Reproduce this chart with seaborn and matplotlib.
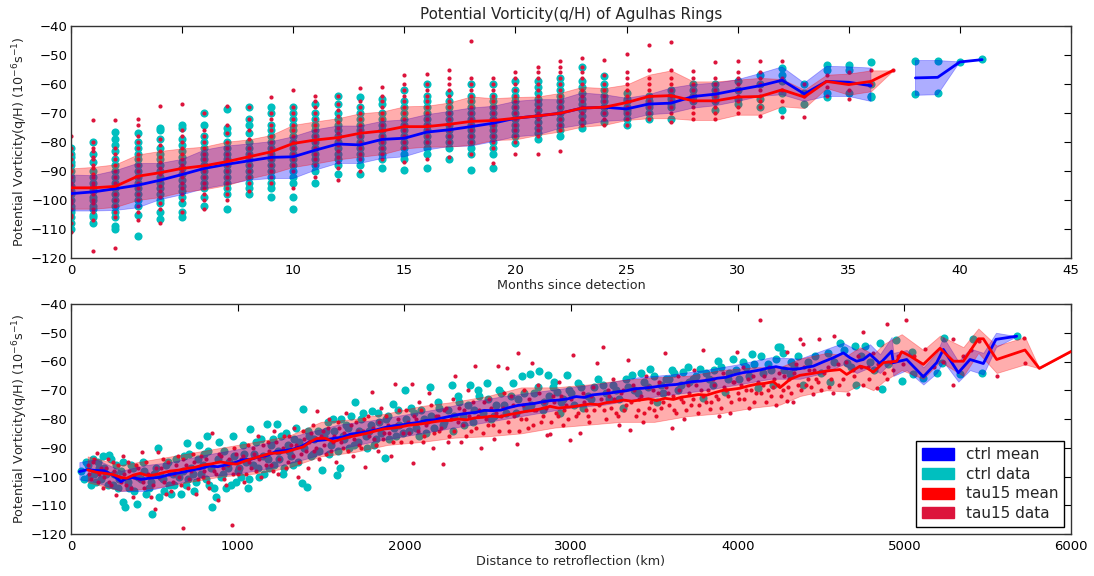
import numpy as np
import pandas as pd
import matplotlib
matplotlib.use("Agg")
import matplotlib.pyplot as plt
import matplotlib.patches as mpatches
import seaborn as sns

# ---------------- TOP PANEL DATA (months since detection) ----------------
months = list(range(42))
ctrl_mean_m = [-97.8, -97.2, -96.1, -94.9, -93.2, -91.2, -89.1, -87.7, -86.5, -85.3,
               -85.1, -82.8, -80.7, -81.0, -79.1, -78.7, -76.6, -75.8, -74.7, -73.5,
               -71.8, -71.0, -70.1, -68.3, -68.0, -68.6, -66.9, -66.6, -64.3, -63.5,
               -62.0, -60.6, -58.7, -63.4, -59.1, -59.4, -60.6, np.nan, -57.9, -57.7,
               -52.4, -51.6]
ctrl_hi_m = [-91.4, -91.6, -89.9, -87.4, -87.4, -86.0, -82.8, -81.4, -80.7, -79.9,
             -78.2, -75.8, -74.5, -74.5, -72.9, -72.4, -70.6, -69.5, -68.3, -67.7,
             -66.0, -65.4, -65.4, -63.1, -63.7, -64.9, -63.7, -61.4, -60.2, -59.7,
             -58.5, -56.4, -54.1, -59.7, -53.9, -54.1, -54.5, np.nan, -51.9, -51.9,
             -52.4, -51.6]
ctrl_lo_m = [-103.8, -103.8, -103.6, -102.7, -99.9, -98.2, -96.1, -94.7, -93.2, -92.6,
             -92.6, -89.7, -87.4, -87.4, -85.7, -85.1, -82.8, -81.6, -81.4, -79.9,
             -78.2, -77.6, -75.3, -74.1, -72.9, -72.4, -70.6, -70.1, -68.3, -67.5,
             -66.0, -64.3, -63.7, -66.0, -64.3, -64.3, -66.0, np.nan, -63.9, -63.7,
             -52.4, -51.6]
tau_mean_m = [-95.8, -95.8, -95.3, -91.8, -90.6, -89.1, -88.2, -86.8, -85.1, -83.4,
              -80.5, -79.3, -78.5, -77.0, -76.2, -74.7, -74.7, -73.9, -72.9, -72.6,
              -71.8, -71.0, -70.1, -68.3, -68.0, -66.4, -64.3, -64.0, -65.8, -65.8,
              -64.5, -64.3, -62.0, -64.5, -59.1, -60.2, -59.1, -55.3, np.nan, np.nan,
              np.nan, np.nan]
tau_hi_m = [-89.1, -88.6, -87.7, -84.3, -83.1, -82.2, -81.6, -79.9, -79.1, -77.6,
            -74.1, -72.9, -71.8, -70.1, -69.5, -67.7, -67.5, -66.4, -64.3, -64.9,
            -64.5, -64.3, -63.1, -61.0, -61.4, -60.2, -56.8, -55.3, -59.1, -59.1,
            -58.5, -57.9, -58.3, -62.0, -56.8, -56.4, -55.3, -55.3, np.nan, np.nan,
            np.nan, np.nan]
tau_lo_m = [-103.0, -103.0, -102.4, -100.0, -99.0, -97.2, -96.3, -94.9, -92.6, -90.9,
            -88.6, -87.4, -86.0, -85.1, -84.2, -82.2, -81.6, -81.6, -81.0, -79.3,
            -79.1, -77.6, -76.4, -74.7, -74.1, -72.4, -71.8, -71.8, -72.4, -72.4,
            -70.6, -70.6, -67.7, -68.3, -61.4, -63.7, -62.5, -55.3, np.nan, np.nan,
            np.nan, np.nan]

ctrl_pts_m = [
    [-82, -85, -88, -90, -93, -95, -98, -100, -102, -104, -106, -110],
    [-80, -87, -90, -94, -97, -100, -103, -106, -108],
    [-76.5, -79, -83, -88, -92, -96, -100, -104, -109, -110],
    [-77, -82, -86, -90, -94, -98, -102, -105, -112.5],
    [-75, -76, -82, -86, -90, -94, -98, -101, -104, -106.5],
    [-74, -75, -81, -85, -89, -93, -97, -101, -104, -106],
    [-70, -74, -80, -84, -88, -92, -96, -99, -102],
    [-68.5, -75, -77, -82, -86, -90, -94, -98, -103],
    [-68, -72, -74, -80, -84, -88, -92, -96, -98],
    [-68, -70, -76, -80, -84, -88, -92, -96, -99],
    [-68, -70, -74, -78, -82, -86, -90, -94, -99, -103],
    [-67, -70, -74, -78, -82, -86, -90, -94],
    [-64, -67, -72, -76, -80, -84, -88, -91],
    [-64.5, -68, -72, -76, -80, -84, -88, -91],
    [-65, -67, -70, -74, -78, -82, -86, -89],
    [-62, -66, -70, -74, -78, -82, -86, -89.7],
    [-60, -64, -68, -72, -76, -80, -84, -89],
    [-63, -66, -70, -74, -78, -82, -86],
    [-60, -64, -68, -72, -76, -80, -84, -89.7],
    [-60, -64, -68, -72, -76, -80, -84, -89],
    [-59, -62, -66, -70, -74, -78, -80.5],
    [-59, -63, -67, -71, -75, -79],
    [-58, -62, -66, -70, -74, -78],
    [-54, -59, -63, -67, -71, -75],
    [-57.3, -62, -66, -70, -73],
    [-63, -66, -69, -72, -74],
    [-64, -67, -70, -72],
    [-62, -65, -68, -72],
    [-60, -62, -64, -66],
    [-60, -62, -64, -66, -69],
    [-59, -62, -65, -67],
    [-57, -60, -65, -68],
    [-54.5, -57, -59, -63, -69],
    [-60, -63, -67],
    [-53.3, -55, -63, -64.5],
    [-53.5, -55, -63],
    [-52.5, -60, -64, -64.5],
    [],
    [-52, -63.5],
    [-52, -63],
    [-52.5],
    [-51.5],
]
ctrl_pts_m_extra = [
    [-84, -87, -92, -97, -103, -108], [-84, -92, -96, -99, -102, -105],
    [-81, -86, -90, -94, -98, -102, -106], [-80, -84, -88, -92, -96, -100],
    [-79, -84, -88, -92, -96, -100], [-79, -83, -87, -91, -95, -99],
    [-78, -82, -86, -90, -94], [-80, -84, -88, -92, -96], [-77, -82, -86, -90, -94],
    [-74, -78, -82, -86, -90, -94], [-72, -76, -80, -84, -88, -92],
    [-72, -76, -80, -84, -88], [-70, -74, -78, -82, -86], [-70, -74, -78, -82, -86],
    [-72, -76, -80, -84], [-68, -72, -76, -80, -84], [-66, -70, -74, -78, -82],
    [-68, -72, -76, -80], [-66, -70, -74, -78, -82], [-66, -70, -74, -78, -82],
    [-64, -68, -72, -76], [-61, -65, -69, -73, -77], [-60, -64, -68, -72, -76],
    [-61, -65, -69, -73], [-60, -64, -68], [-65, -68, -70], [-66, -68], [-64, -67],
]
tau_pts_m = [
    [-78, -84, -88, -92, -95, -98, -101, -105, -108, -111],
    [-72.5, -80, -83, -86, -89, -92, -95, -98, -101, -104, -107, -117.5],
    [-72.5, -82, -86, -90, -94, -98, -102, -106, -116.5],
    [-72, -74, -80, -84, -88, -92, -96, -100, -104, -107],
    [-67.5, -79, -83, -87, -91, -95, -99, -103, -108],
    [-67, -76, -80, -84, -88, -92, -96, -100, -104],
    [-70, -78, -82, -86, -90, -94, -98, -103],
    [-67.5, -74, -80, -84, -88, -92, -96, -100],
    [-68, -76, -82, -86, -90, -94, -97],
    [-64.5, -72, -76, -80, -84, -88, -92, -94],
    [-62, -70, -74, -78, -82, -86, -90, -96],
    [-64, -68, -72, -76, -80, -84, -88, -92],
    [-64, -69, -73, -77, -81, -85, -89, -93],
    [-61.5, -66, -70, -74, -78, -82, -86, -90],
    [-61, -66, -70, -74, -78, -82, -86],
    [-57, -62, -66, -70, -74, -78, -82, -87],
    [-56.4, -60, -64, -68, -72, -76, -80, -86],
    [-55, -60, -64, -68, -72, -76, -80, -85],
    [-45.2, -58, -62, -66, -70, -74, -78, -84],
    [-58, -62, -66, -70, -74, -78, -82, -87.4],
    [-56, -60, -64, -68, -72, -76, -80, -84],
    [-54, -58, -62, -66, -70, -74, -78, -84],
    [-52, -56, -60, -64, -68, -72, -76, -83],
    [-51, -54, -58, -62, -66, -70, -74],
    [-51.6, -57, -62, -66, -70, -74],
    [-49.6, -56, -60, -64, -68, -72, -74],
    [-46.7, -55, -60, -64, -68, -72],
    [-45.5, -55, -60, -64, -68, -73],
    [-55.4, -60, -64, -68, -72],
    [-52.5, -60, -64, -68, -72],
    [-52, -58, -62, -66, -70],
    [-52, -58, -62, -66, -71],
    [-52, -58, -62, -66, -71.4],
    [-60, -64, -71.4],
    [-57, -61, -64],
    [-56, -62, -65],
    [-55, -60],
    [-55.3],
    [], [], [], [],
]
tau_pts_m_extra = [
    [-82, -86, -90, -94, -97, -100, -103, -106], [-82, -85, -88, -91, -94, -97, -100, -103],
    [-84, -88, -92, -96, -100, -104], [-78, -82, -86, -90, -94, -98, -102],
    [-81, -85, -89, -93, -97, -101], [-78, -82, -86, -90, -94, -98],
    [-76, -80, -84, -88, -92, -96, -100], [-77, -82, -86, -90, -94, -98],
    [-72, -79, -84, -88, -92], [-70, -74, -78, -82, -86, -90],
    [-68, -72, -76, -80, -84, -88], [-66, -70, -74, -78, -82, -86],
    [-67, -71, -75, -79, -83, -87], [-68, -72, -76, -80, -84],
    [-64, -68, -72, -76, -80, -84], [-60, -64, -68, -72, -76, -80],
    [-62, -66, -70, -74, -78], [-58, -62, -66, -70, -74, -78],
    [-60, -64, -68, -72, -76, -80], [-60, -64, -68, -72, -76, -80],
    [-58, -62, -66, -70, -74, -78], [-56, -60, -64, -68, -72, -76],
    [-54, -58, -62, -66, -70, -74], [-56, -60, -64, -68, -72], [-60, -64, -68, -72],
    [-58, -62, -66, -70], [-58, -62, -66, -70], [-58, -62, -66, -70],
    [-58, -62, -66, -70], [-58, -62, -66, -70], [-56, -60, -64, -68], [-56, -60, -64, -68],
]

# ---------------- BOTTOM PANEL DATA (distance to retroflection, km) ----------------
ctrl_dist = [50, 100, 150, 200, 250, 300, 330, 370, 420, 470, 530, 580, 630, 680, 730, 780,
             830, 880, 930, 980, 1030, 1080, 1130, 1180, 1230, 1280, 1330, 1380, 1430, 1480,
             1530, 1580, 1630, 1680, 1730, 1780, 1830, 1880, 1930, 1980, 2030, 2080, 2130,
             2180, 2230, 2280, 2330, 2380, 2430, 2480, 2530, 2580, 2630, 2680, 2730, 2780,
             2830, 2880, 2930, 2980, 3030, 3080, 3130, 3180, 3230, 3280, 3330, 3380, 3430,
             3480, 3530, 3580, 3630, 3680, 3730, 3780, 3830, 3880, 3930, 3980, 4030, 4080,
             4130, 4180, 4230, 4280, 4330, 4374, 4414, 4454, 4514, 4574, 4634, 4674, 4714,
             4754, 4794, 4854, 4924, 4934, 5014, 5114, 5194, 5234, 5324, 5394, 5474, 5550,
             5674]
ctrl_mean_d = [-98.3, -97.6, -97.9, -98.0, -99.5, -101.8, -100.8, -100.4, -101.0, -100.6,
               -100.3, -99.5, -98.9, -98.4, -97.7, -97.2, -96.3, -96.6, -96.0, -95.2, -94.2,
               -94.0, -93.1, -92.6, -91.3, -91.0, -90.5, -89.6, -88.0, -87.5, -87.2, -86.7,
               -86.3, -85.2, -84.9, -84.4, -83.8, -83.0, -82.4, -82.1, -81.6, -81.2, -80.5,
               -80.3, -79.6, -79.0, -78.4, -78.0, -77.7, -77.0, -77.1, -76.9, -76.0, -75.3,
               -74.9, -74.6, -74.0, -73.6, -73.4, -73.0, -72.2, -72.5, -71.6, -71.3, -71.0,
               -70.5, -70.2, -69.5, -69.3, -69.0, -68.6, -68.2, -68.0, -67.5, -67.0, -66.8,
               -66.4, -65.8, -65.5, -64.6, -63.9, -63.5, -63.0, -62.3, -61.8, -62.4, -62.7,
               -62.5, -62.0, -61.6, -60.1, -58.7, -57.0, -58.7, -59.9, -59.3, -57.5, -60.7,
               -56.4, -60.4, -59.3, -65.3, -60.4, -55.8, -63.9, -59.3, -60.7, -52.3, -51.2]
ctrl_band_d = [50, 150, 300, 450, 600, 800, 1000, 1200, 1400, 1600, 1800, 2000, 2200, 2400,
               2600, 2800, 3000, 3200, 3400, 3600, 3800, 4000, 4200, 4374, 4514, 4634, 4714,
               4794, 4854, 4924, 4934, 5014, 5114, 5194, 5234, 5324, 5394, 5474, 5550, 5674]
ctrl_band_lo = [-101, -102, -105, -105, -103, -100, -99, -97, -94, -90.5, -88, -86, -84, -82,
                -80, -78, -76, -75, -73, -71.5, -70, -68, -66, -66, -64, -61, -64, -62, -64,
                -60, -65, -63, -68, -64, -60, -67, -63, -64.5, -55, -51.2]
ctrl_band_hi = [-95, -94, -98, -96, -95, -92.5, -90.5, -88, -85, -82, -80.5, -78.5, -76.5, -74,
                -72, -70.5, -69, -67.5, -65.5, -64.5, -63, -61, -58.5, -59, -56, -53.5, -56,
                -54, -57.5, -51.5, -57, -56, -62, -57, -51.5, -60, -55.5, -57, -50, -51.2]

tau_dist = [100, 150, 200, 250, 300, 334, 374, 414, 454, 494, 544, 594, 644, 694, 744, 794,
            844, 894, 944, 994, 1044, 1094, 1144, 1194, 1244, 1294, 1344, 1394, 1434, 1474,
            1524, 1574, 1624, 1674, 1724, 1774, 1824, 1874, 1924, 1974, 2024, 2074, 2124,
            2174, 2224, 2274, 2324, 2374, 2424, 2474, 2524, 2574, 2624, 2674, 2724, 2774,
            2824, 2874, 2924, 2974, 3014, 3064, 3114, 3164, 3214, 3264, 3314, 3364, 3414,
            3464, 3514, 3564, 3614, 3664, 3714, 3764, 3814, 3864, 3914, 3964, 4014, 4064,
            4114, 4164, 4214, 4254, 4314, 4374, 4454, 4534, 4614, 4654, 4734, 4774, 4814,
            4874, 4954, 4984, 5034, 5114, 5214, 5294, 5354, 5444, 5474, 5554, 5724, 5810,
            6004]
tau_mean_d = [-97.7, -98.5, -98.9, -99.3, -100.3, -100.6, -99.5, -98.9, -99.6, -99.5, -98.8,
              -98.1, -97.8, -97.2, -96.8, -96.0, -95.6, -94.9, -95.4, -95.7, -94.6, -93.7,
              -92.8, -92.0, -91.8, -91.4, -90.5, -89.7, -88.0, -86.8, -86.7, -87.9, -87.0,
              -86.2, -85.6, -85.0, -84.2, -83.5, -83.2, -82.8, -82.2, -81.9, -81.5, -81.0,
              -80.6, -80.5, -80.0, -80.3, -79.6, -79.4, -79.0, -79.2, -78.5, -78.0, -77.4,
              -77.0, -76.4, -75.6, -76.2, -75.9, -75.7, -75.2, -74.8, -75.0, -74.3, -74.0,
              -73.4, -73.8, -73.4, -73.0, -73.6, -72.8, -73.2, -72.4, -72.0, -71.5, -71.7,
              -70.8, -70.0, -69.7, -69.3, -68.5, -67.9, -67.6, -67.0, -69.1, -66.2, -64.8,
              -64.1, -63.3, -62.8, -64.5, -61.6, -62.2, -63.7, -60.4, -59.9, -56.6, -58.1,
              -61.0, -55.4, -59.9, -59.9, -52.1, -52.1, -59.3, -56.0, -62.4, -56.4]
tau_band_d = [100, 300, 500, 700, 900, 1100, 1300, 1500, 1700, 1900, 2100, 2300, 2500, 2700,
              2900, 3100, 3300, 3500, 3700, 3900, 4100, 4254, 4374, 4534, 4654, 4734, 4814,
              4874, 4984, 5114, 5214, 5354, 5444, 5554, 5724, 5810, 6004]
tau_band_lo = [-102, -105, -104, -102, -100, -99, -97, -93, -91.5, -89, -88, -86.5, -86, -85,
               -83, -82, -81, -81, -79, -78, -76, -75, -72, -70, -70.5, -68, -70, -67, -63,
               -66, -60, -65, -57, -64, -61, -62.4, -56.4]
tau_band_hi = [-93, -96, -94, -92, -90, -88, -86, -81, -80, -78, -75.5, -74, -72, -69, -69,
               -68, -66.5, -65.5, -65, -63, -62, -62, -59, -57, -58, -55, -57.5, -54, -50.5,
               -56, -51, -55, -48.5, -54.5, -51.5, -62.4, -56.4]

ctrl_pts_x = [60, 90, 110, 130, 150, 170, 190, 210, 230, 250, 270, 290, 310, 314, 324, 350,
              370, 394, 420, 440, 470, 484, 500, 520, 540, 560, 580, 600, 620, 650, 680, 694,
              700, 720, 740, 760, 780, 800, 814, 830, 844, 870, 890, 910, 930, 950, 970, 990,
              1010, 1020, 1040, 1060, 1074, 1090, 1110, 1130, 1150, 1174, 1190, 1210, 1234,
              1250, 1270, 1290, 1310, 1330, 1350, 1370, 1384, 1394, 1414, 1430, 1450, 1480,
              1504, 1530, 1550, 1570, 1594, 1614, 1630, 1650, 1670, 1704, 1720, 1740, 1774,
              1790, 1804, 1830, 1850, 1884, 1900, 1934, 1950, 1970, 2004, 2030, 2060, 2090,
              2120, 2154, 2180, 2210, 2240, 2284, 2300, 2330, 2360, 2394, 2420, 2450, 2494,
              2520, 2550, 2580, 2610, 2654, 2680, 2704, 2730, 2754, 2780, 2810, 2840, 2864,
              2890, 2914, 2934, 2950, 2974, 3000, 3044, 3074, 3100, 3140, 3194, 3230, 3270,
              3314, 3340, 3364, 3400, 3440, 3474, 3514, 3540, 3570, 3604, 3640, 3674, 3710,
              3750, 3774, 3794, 3830, 3860, 3884, 3924, 3950, 3974, 4010, 4050, 4084, 4124,
              4150, 4180, 4214, 4244, 4254, 4280, 4314, 4320, 4364, 4394, 4464, 4544, 4554,
              4614, 4654, 4704, 4710, 4764, 4794, 4854, 4864, 4950, 4984, 5044, 5054, 5114,
              5194, 5224, 5238, 5334, 5410, 5468, 5674,
              80, 100, 120, 140, 160, 180, 200, 220, 240, 260, 280, 300, 340, 360, 380, 400,
              430, 450, 480, 510, 530, 550, 570, 590, 610, 630, 660, 670, 690, 710, 730, 750,
              770, 790, 810, 820, 840, 860, 880, 900, 920, 940, 960, 980, 1000, 1030, 1050,
              1070, 1100, 1120, 1140, 1160, 1180, 1200, 1220, 1240, 1260, 1280, 1300, 1320,
              1340, 1360, 1400, 1420, 1440, 1460, 1490, 1520, 1540, 1560, 1580, 1600, 1620,
              1640, 1660, 1680, 1700, 1730, 1750, 1770, 1800, 1820, 1840, 1860, 1890, 1910,
              1940, 1960, 1990, 2010, 2040, 2070, 2100, 2130, 2160, 2200, 2230, 2260, 2290,
              2320, 2350, 2380, 2410, 2440, 2470, 2500, 2540, 2570, 2600, 2640, 2670, 2720,
              2760, 2800, 2830, 2870, 2900, 2940, 2990, 3020, 3060, 3120, 3160, 3210, 3250,
              3290, 3330, 3380, 3420, 3460, 3500, 3550, 3590, 3620, 3660, 3700, 3730, 3810,
              3850, 3900, 3940, 3990, 4030, 4070, 4100, 4140, 4200, 4230, 4270, 4340, 4420,
              4500, 4580, 4640, 4680, 4740, 4820, 4900]
ctrl_pts_y = [-98, -95, -100, -94, -102, -97, -93, -99, -92.5, -103, -96, -101, -95, -108.8,
              -110.5, -104, -97, -109.4, -101, -98, -104, -113.2, -99, -90, -100, -105, -95,
              -106, -103, -100, -93, -88.5, -101, -97, -105, -94, -99, -92, -85.8, -103,
              -110.5, -107, -88, -99, -104, -95, -86, -102, -97, -100, -92, -104, -83.6, -96,
              -88, -100, -93, -81.6, -97, -87, -81.6, -94, -99, -85, -91, -96, -83, -88,
              -102.4, -76.5, -103.5, -86, -92, -84, -97.7, -84, -92, -80, -99.5, -97.2, -86,
              -82, -90, -74, -88, -80, -90.1, -84, -77.2, -87, -81, -93.6, -79, -74.8, -86,
              -82, -69.9, -84, -78, -86, -80, -68.8, -83, -76, -81, -68.2, -79, -74, -82,
              -68.2, -77, -72, -67.6, -80, -75, -71, -78, -67.6, -73, -65, -76, -64.3, -71,
              -63.2, -74, -64.7, -69, -70.5, -78, -73, -64.7, -71, -67.6, -76.3, -72, -69,
              -68.2, -73, -70, -76.3, -69, -64.7, -71, -67, -62.7, -74, -68, -66, -62.9,
              -70, -63.8, -67, -65, -62.7, -72.8, -66, -63, -59.7, -70.5, -64, -59.2, -66,
              -62, -57.4, -69.3, -64, -61, -68.2, -54.8, -54.9, -63, -64.5, -60, -58.1, -68,
              -58.1, -57, -67.2, -53.7, -60.4, -54.6, -68.3, -54.6, -60.2, -53.7, -69.5,
              -52.6, -66.8, -56.7, -64.5, -65.7, -63.9, -60.4, -51.9, -64.5, -52.1, -64.1,
              -51.2,
              -101, -96, -103, -99, -95, -101, -97, -103, -94, -99, -104, -98, -102, -96, -105,
              -100, -95, -106, -102, -97, -107, -101, -96, -103, -99, -94, -106, -98, -103,
              -92, -99, -102, -89, -96, -101, -91, -97, -104, -94, -100, -91, -97, -103, -93,
              -98, -89, -95, -101, -92, -97, -87, -99, -94, -89, -96, -91, -86, -97, -89, -93,
              -87, -95, -90, -84, -93, -87, -91, -86, -81, -89, -84, -91, -80, -87, -83, -79,
              -89, -84, -78, -86, -82, -89, -78, -85, -80, -87, -83, -77, -85, -80, -76, -83,
              -77, -85, -79, -74, -82, -77, -84, -72, -79, -75, -81, -70, -78, -73, -79, -70,
              -75, -72, -78, -71, -75, -69, -77, -72, -67, -74, -70, -75, -69, -73, -66, -71,
              -68, -73, -66, -70, -64, -69, -65, -71, -66, -64, -68, -62, -66, -64, -68, -62,
              -66, -63, -60, -65, -61, -58, -63, -59, -57, -62, -60, -64, -60, -56, -62, -58,
              -63, -61]

tau_pts_x = [100, 120, 140, 154, 170, 190, 210, 230, 250, 270, 290, 310, 330, 350, 370, 390,
             410, 424, 440, 460, 480, 504, 524, 540, 560, 580, 600, 620, 640, 660, 674, 690,
             710, 730, 750, 770, 790, 810, 830, 844, 860, 880, 900, 920, 940, 964, 980, 1000,
             1020, 1040, 1060, 1080, 1100, 1120, 1140, 1160, 1180, 1200, 1220, 1240, 1260,
             1280, 1300, 1320, 1340, 1364, 1380, 1400, 1420, 1440, 1460, 1474, 1490, 1510,
             1530, 1550, 1570, 1590, 1610, 1630, 1650, 1670, 1690, 1710, 1730, 1750, 1764,
             1780, 1804, 1820, 1840, 1860, 1880, 1900, 1920, 1944, 1960, 1980, 2010, 2030,
             2044, 2054, 2070, 2090, 2110, 2130, 2150, 2170, 2190, 2210, 2234, 2250, 2270,
             2290, 2304, 2320, 2340, 2360, 2380, 2400, 2424, 2440, 2460, 2480, 2500, 2520,
             2540, 2564, 2580, 2600, 2614, 2630, 2650, 2674, 2684, 2700, 2720, 2740, 2764,
             2780, 2800, 2820, 2840, 2854, 2874, 2890, 2910, 2930, 2950, 2970, 2994, 3014,
             3030, 3054, 3070, 3090, 3110, 3130, 3154, 3170, 3194, 3210, 3230, 3250, 3270,
             3290, 3310, 3330, 3344, 3354, 3370, 3390, 3410, 3430, 3450, 3470, 3490, 3510,
             3530, 3550, 3564, 3580, 3604, 3620, 3640, 3660, 3680, 3700, 3720, 3740, 3760,
             3780, 3794, 3810, 3834, 3850, 3870, 3890, 3910, 3930, 3954, 3970, 3994, 4010,
             4030, 4050, 4070, 4090, 4110, 4134, 4150, 4170, 4190, 4210, 4230, 4250, 4270,
             4294, 4294, 4310, 4334, 4350, 4374, 4394, 4410, 4430, 4454, 4470, 4490, 4520,
             4550, 4574, 4580, 4600, 4630, 4664, 4690, 4720, 4750, 4754, 4780, 4810, 4834,
             4860, 4894, 4898, 4930, 4960, 4990, 5010, 5060, 5124, 5180, 5230, 5290, 5294,
             5350, 5400, 5450, 5554, 5718, 5724,
             110, 130, 160, 180, 200, 220, 240, 260, 280, 300, 320, 340, 360, 380, 400, 430,
             450, 470, 490, 510, 530, 550, 570, 590, 610, 630, 650, 670, 700, 720, 740, 760,
             780, 800, 820, 840, 870, 890, 910, 930, 950, 970, 990, 1010, 1030, 1050, 1070,
             1090, 1110, 1130, 1150, 1170, 1190, 1210, 1230, 1250, 1270, 1290, 1310, 1330,
             1350, 1370, 1390, 1410, 1430, 1450, 1470, 1500, 1520, 1540, 1560, 1580, 1600,
             1620, 1640, 1660, 1680, 1700, 1720, 1740, 1760, 1790, 1810, 1830, 1850, 1870,
             1890, 1910, 1930, 1950, 1970, 1990, 2020, 2040, 2060, 2080, 2100, 2120, 2140,
             2160, 2180, 2200, 2220, 2240, 2260, 2280, 2300, 2330, 2350, 2370, 2390, 2410,
             2430, 2450, 2470, 2490, 2510, 2530, 2550, 2570, 2590, 2620, 2640, 2660, 2690,
             2710, 2730, 2750, 2770, 2790, 2810, 2830, 2850, 2880, 2900, 2920, 2940, 2960,
             2980, 3000, 3040, 3080, 3100, 3120, 3140, 3180, 3200, 3220, 3240, 3260, 3280,
             3300, 3320, 3360, 3380, 3400, 3420, 3440, 3460, 3480, 3500, 3520, 3540, 3570,
             3590, 3610, 3630, 3650, 3670, 3690, 3710, 3730, 3750, 3770, 3790, 3820, 3840,
             3860, 3880, 3900, 3920, 3940, 3960, 3980, 4000, 4020, 4040, 4060, 4080, 4100,
             4120, 4140, 4160, 4180, 4200, 4220, 4240, 4260, 4280, 4300, 4320, 4340, 4360,
             4380, 4400, 4420, 4440, 4460, 4480, 4500, 4540, 4560, 4610, 4650, 4700, 4740,
             4790, 4840, 4880, 4920]
tau_pts_y = [-96, -101, -94, -91.7, -99, -104, -97, -102, -95, -106.5, -100, -93, -103, -98,
             -107, -96, -101, -91.4, -104, -99, -107, -111.4, -91.4, -97, -102, -95, -105,
             -99, -93, -103, -118, -96, -101, -92, -106, -97, -100, -94, -104, -84.8, -98,
             -108, -93, -101, -96, -116.9, -90, -99, -94, -102, -89, -97, -92, -86, -100,
             -93, -88, -96, -84, -99, -91, -86, -95, -89, -83, -100.1, -92, -87, -97, -85,
             -91, -77.1, -94, -84, -92, -80, -88, -95, -83, -90, -78, -86, -93, -81, -89,
             -84, -96.6, -79, -70.5, -87, -91, -76, -85, -82, -93, -67.9, -80, -88, -77, -85,
             -67.7, -95.4, -80, -74, -88, -82, -71, -90, -79, -84, -95.6, -76, -86, -73,
             -64.9, -81, -88, -77, -70, -84, -61.5, -79, -90, -74, -82, -76, -87, -61.6, -79,
             -71, -62.4, -84, -75, -88.7, -57.2, -80, -70, -83, -60.6, -77, -68, -81, -74,
             -85.6, -85.3, -72, -78, -67, -82, -75, -87.3, -57.7, -79, -84.8, -71, -77, -81,
             -69, -60.6, -75, -54.8, -80, -72, -66, -78, -82, -70, -75, -59.5, -83.8, -68,
             -79, -73, -81, -65, -76, -70, -79, -67, -74, -57.2, -71, -83.2, -77, -65, -73,
             -80, -68, -75, -63, -78, -70, -56.1, -74, -76.6, -66, -72, -79, -64, -70, -78,
             -67, -56.8, -73, -62, -70, -76, -65, -71, -45.6, -68, -74, -62, -69, -75, -64,
             -70, -73.8, -56.6, -66, -74.1, -61, -52.3, -53.8, -68, -63, -71.4, -66, -52,
             -64, -69, -70.9, -51.2, -61, -66, -71.4, -63, -58, -49.7, -68, -62, -57, -69.1,
             -60, -66, -46.8, -63, -58, -61, -45.6, -58, -55.6, -62, -60, -68.2, -52.3, -58,
             -56, -53, -65.1, -51.7, -60.4,
             -99, -95, -102, -97, -100, -94, -103, -98, -96, -102, -99, -95, -104, -100, -97,
             -102, -95, -100, -103, -97, -100, -94, -106, -99, -102, -96, -100, -94, -104, -98,
             -95, -101, -93, -98, -102, -96, -99, -92, -97, -103, -94, -99, -92, -97, -93, -99,
             -95, -90, -98, -94, -89, -96, -91, -98, -88, -94, -90, -97, -86, -93, -89, -95,
             -84, -91, -88, -82, -90, -86, -89, -83, -91, -86, -81, -88, -85, -91, -82, -87,
             -84, -90, -80, -86, -83, -89, -81, -87, -79, -85, -88, -82, -77, -85, -81, -88,
             -79, -84, -77, -86, -81, -75, -85, -79, -83, -77, -88, -80, -84, -76, -82, -86,
             -79, -74, -83, -77, -85, -80, -73, -82, -78, -84, -76, -81, -72, -79, -84, -75,
             -80, -73, -82, -77, -71, -79, -76, -81, -74, -79, -72, -77, -80, -73, -78, -74,
             -79, -72, -77, -73, -77, -70, -76, -73, -79, -71, -77, -74, -70, -77, -72, -78,
             -69, -74, -77, -71, -76, -69, -75, -72, -78, -70, -74, -77, -71, -73, -68, -75,
             -72, -70, -74, -68, -73, -76, -69, -72, -74, -67, -71, -68, -73, -66, -70, -74,
             -67, -71, -65, -70, -72, -66, -68, -72, -65, -69, -71, -64, -68, -70, -62, -66,
             -69, -63, -67, -70, -62, -66, -68, -60, -65, -62, -66, -61, -64, -60]

legend_labels = ["ctrl mean", "ctrl data", "tau15 mean", "tau15 data"]

# ---------------- STYLE ----------------
sns.set_style("white")
plt.rcParams["font.family"] = ["DejaVu Sans"]
plt.rcParams["mathtext.fontset"] = "dejavusans"

C_MEAN = "#0000ff"
C_DATA = "#00bfbf"
T_MEAN = "#ff0000"
T_DATA = "#dc143c"
FS = 9.2

fig = plt.figure(figsize=(10.94, 5.76), dpi=100)
ax1 = fig.add_axes([71 / 1094, 1 - 258 / 576, 1000 / 1094, 232 / 576])
ax2 = fig.add_axes([71 / 1094, 1 - 534 / 576, 1000 / 1094, 230 / 576])

# ----- top panel -----
cx, cy, tx, ty = [], [], [], []
for m, pts in zip(months, ctrl_pts_m):
    cx += [m] * len(pts); cy += pts
for m, pts in zip(months, ctrl_pts_m_extra):
    cx += [m] * len(pts); cy += pts
for m, pts in zip(months, tau_pts_m):
    tx += [m] * len(pts); ty += pts
for m, pts in zip(months, tau_pts_m_extra):
    tx += [m] * len(pts); ty += pts
sns.scatterplot(x=cx, y=cy, ax=ax1, color=C_DATA, s=34, linewidth=0, zorder=2)
sns.scatterplot(x=tx, y=ty, ax=ax1, color=T_DATA, s=9, linewidth=0, zorder=2)

m_arr = np.array(months, dtype=float)
ax1.fill_between(m_arr, np.array(ctrl_lo_m), np.array(ctrl_hi_m), color=C_MEAN, alpha=0.32,
                 linewidth=0.6, zorder=3)
ax1.fill_between(m_arr, np.array(tau_lo_m), np.array(tau_hi_m), color=T_MEAN, alpha=0.32,
                 linewidth=0.6, zorder=3)


def segments(x, y):
    seg, out = [], []
    for a, b in zip(x, y):
        if np.isnan(b):
            if seg:
                out.append(seg)
            seg = []
        else:
            seg.append((a, b))
    if seg:
        out.append(seg)
    return out


for seg in segments(months, ctrl_mean_m):
    sns.lineplot(x=[p[0] for p in seg], y=[p[1] for p in seg], ax=ax1, color=C_MEAN,
                 linewidth=2, sort=False, estimator=None, zorder=4)
for seg in segments(months, tau_mean_m):
    sns.lineplot(x=[p[0] for p in seg], y=[p[1] for p in seg], ax=ax1, color=T_MEAN,
                 linewidth=2, sort=False, estimator=None, zorder=5)

ax1.set_xlim(0, 45)
ax1.set_ylim(-120, -40)
ax1.set_xticks(range(0, 46, 5))
ax1.set_yticks(range(-120, -39, 10))
ax1.set_title("Potential Vorticity(q/H) of Agulhas Rings", fontsize=10.9, pad=5)
ax1.set_xlabel("Months since detection", fontsize=FS, labelpad=2)
ax1.set_ylabel(r"Potential Vorticity(q/H) ($10^{-6}$s$^{-1}$)", fontsize=FS, labelpad=1)

# ----- bottom panel -----
sns.scatterplot(x=ctrl_pts_x, y=ctrl_pts_y, ax=ax2, color=C_DATA, s=34, linewidth=0, zorder=2)
sns.scatterplot(x=tau_pts_x, y=tau_pts_y, ax=ax2, color=T_DATA, s=9, linewidth=0, zorder=2)
ax2.fill_between(ctrl_band_d, ctrl_band_lo, ctrl_band_hi, color=C_MEAN, alpha=0.32,
                 linewidth=0.6, zorder=3)
ax2.fill_between(tau_band_d, tau_band_lo, tau_band_hi, color=T_MEAN, alpha=0.32,
                 linewidth=0.6, zorder=3)
sns.lineplot(x=ctrl_dist, y=ctrl_mean_d, ax=ax2, color=C_MEAN, linewidth=2, sort=False,
             estimator=None, zorder=4)
sns.lineplot(x=tau_dist, y=tau_mean_d, ax=ax2, color=T_MEAN, linewidth=2, sort=False,
             estimator=None, zorder=5)
ax2.set_xlim(0, 6000)
ax2.set_ylim(-120, -40)
ax2.set_xticks(range(0, 6001, 1000))
ax2.set_yticks(range(-120, -39, 10))
ax2.set_xlabel("Distance to retroflection (km)", fontsize=FS, labelpad=2)
ax2.set_ylabel(r"Potential Vorticity(q/H) ($10^{-6}$s$^{-1}$)", fontsize=FS, labelpad=1)

handles = [mpatches.Patch(color=c, label=l) for c, l in
           zip([C_MEAN, C_DATA, T_MEAN, T_DATA], legend_labels)]
leg = ax2.legend(handles=handles, loc="lower right", fontsize=11, frameon=True,
                 fancybox=False, handlelength=2.1, handleheight=0.75, borderpad=0.4,
                 labelspacing=0.3, handletextpad=0.75, borderaxespad=0.45)
leg.get_frame().set_edgecolor("black")
leg.get_frame().set_linewidth(1.0)
leg.get_frame().set_alpha(1)

for ax in (ax1, ax2):
    ax.tick_params(direction="in", length=5, width=0.8, top=True, right=True,
                   labelsize=FS + 0.3, colors="black")
    ax.tick_params(axis="x", pad=4)
    ax.tick_params(axis="y", pad=2.5)
    for sp in ax.spines.values():
        sp.set_color("#333333")
        sp.set_linewidth(1.0)
        sp.set_visible(True)
    ax.set_facecolor("white")

fig.savefig("out.png", dpi=100)
